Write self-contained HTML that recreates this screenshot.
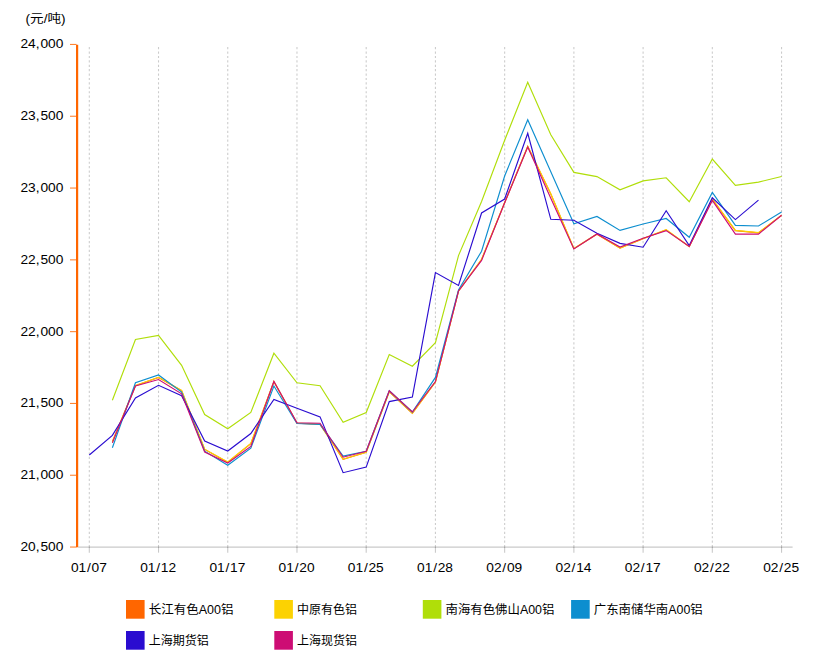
<!DOCTYPE html>
<html lang="zh-CN">
<head>
<meta charset="utf-8">
<title>铝价走势图</title>
<style>
html, body { margin: 0; padding: 0; background: #fff; }
body { width: 832px; height: 661px; overflow: hidden; font-family: "Liberation Sans", sans-serif; }
#chartdiv { position: absolute; left: 0; top: 0; width: 832px; height: 661px; }
#chartdiv svg { display: block; }
</style>
</head>
<body>
<div id="chartdiv">
<svg id="chart" width="832" height="661" viewBox="0 0 832 661" role="img" aria-label="铝价走势图 (元/吨)">
<rect width="832" height="661" fill="#fff"/>
<g class="grid" stroke="#000" stroke-opacity="0.2" stroke-width="1.1" stroke-dasharray="2.2 2.206" fill="none">
<line x1="89.3" y1="547.15" x2="89.3" y2="46.5"/>
<line x1="158.52" y1="547.15" x2="158.52" y2="46.5"/>
<line x1="227.75" y1="547.15" x2="227.75" y2="46.5"/>
<line x1="296.97" y1="547.15" x2="296.97" y2="46.5"/>
<line x1="366.2" y1="547.15" x2="366.2" y2="46.5"/>
<line x1="435.43" y1="547.15" x2="435.43" y2="46.5"/>
<line x1="504.65" y1="547.15" x2="504.65" y2="46.5"/>
<line x1="573.88" y1="547.15" x2="573.88" y2="46.5"/>
<line x1="643.1" y1="547.15" x2="643.1" y2="46.5"/>
<line x1="712.32" y1="547.15" x2="712.32" y2="46.5"/>
<line x1="781.55" y1="547.15" x2="781.55" y2="46.5"/>
</g>
<g class="x-axis" stroke="#000" stroke-opacity="0.21" stroke-width="1.1" fill="none">
<line x1="78.2" y1="547.15" x2="792.6" y2="547.15"/>
<line x1="89.3" y1="547.05" x2="89.3" y2="552.65"/>
<line x1="158.52" y1="547.05" x2="158.52" y2="552.65"/>
<line x1="227.75" y1="547.05" x2="227.75" y2="552.65"/>
<line x1="296.97" y1="547.05" x2="296.97" y2="552.65"/>
<line x1="366.2" y1="547.05" x2="366.2" y2="552.65"/>
<line x1="435.43" y1="547.05" x2="435.43" y2="552.65"/>
<line x1="504.65" y1="547.05" x2="504.65" y2="552.65"/>
<line x1="573.88" y1="547.05" x2="573.88" y2="552.65"/>
<line x1="643.1" y1="547.05" x2="643.1" y2="552.65"/>
<line x1="712.32" y1="547.05" x2="712.32" y2="552.65"/>
<line x1="781.55" y1="547.05" x2="781.55" y2="552.65"/>
</g>
<g class="series" fill="none" stroke-width="1.15" stroke-linejoin="miter" stroke-linecap="butt">
<polyline stroke="#FF6600" points="112.38,441.5 135.45,385.7 158.52,377.5 181.6,390.7 204.68,449.4 227.75,462.2 250.82,443.7 273.9,381.7 296.97,423.2 320.05,424.5 343.12,459.4 366.2,452.4 389.27,391.9 412.35,413.3 435.43,382.1 458.5,291.2 481.57,259.5 504.65,202.7 527.73,146.5 550.8,194 573.88,248.7 596.95,234.2 620.02,248.2 643.1,238.7 666.17,229.8 689.25,246.7 712.32,199.2 735.4,230.6 758.47,232.8 781.55,215.4"><title>长江有色A00铝</title></polyline>
<polyline stroke="#FCD202" points="112.38,442.2 135.45,385.5 158.52,377.3 181.6,390.5 204.68,449.2 227.75,462 250.82,443.5 273.9,381.5 296.97,423 320.05,424.3 343.12,459.2 366.2,452.2 389.27,391.7 412.35,413.1 435.43,381.9 458.5,291 481.57,259.3 504.65,202.5 527.73,146.3 550.8,193.8 573.88,248.5 596.95,234 620.02,248 643.1,238.5 666.17,229.6 689.25,246.5 712.32,199 735.4,230.4 758.47,232.6 781.55,215.2"><title>中原有色铝</title></polyline>
<polyline stroke="#B0DE09" points="112.38,400.2 135.45,339.5 158.52,335.4 181.6,365.3 204.68,414.6 227.75,428.8 250.82,412.5 273.9,353.2 296.97,382.8 320.05,385.8 343.12,422.2 366.2,412.5 389.27,354.5 412.35,366.2 435.43,342.6 458.5,255.6 481.57,201.5 504.65,140.3 527.73,82.2 550.8,134.8 573.88,172.4 596.95,176.6 620.02,189.8 643.1,180.9 666.17,177.75 689.25,201.7 712.32,159 735.4,185.4 758.47,182.1 781.55,176.5"><title>南海有色佛山A00铝</title></polyline>
<polyline stroke="#0D8ECF" points="112.38,447.7 135.45,382.8 158.52,375 181.6,392 204.68,451.2 227.75,465.2 250.82,448.2 273.9,386 296.97,423.5 320.05,424.4 343.12,456 366.2,451.2 389.27,390.8 412.35,412 435.43,377.4 458.5,290 481.57,251.2 504.65,176 527.73,119.7 550.8,171.8 573.88,223.8 596.95,216.4 620.02,230.4 643.1,224 666.17,218.5 689.25,237.3 712.32,192.4 735.4,225.4 758.47,226 781.55,212.1"><title>广东南储华南A00铝</title></polyline>
<polyline stroke="#2A0CD0" points="89.3,455 112.38,435.4 135.45,398 158.52,385.3 181.6,395.7 204.68,441 227.75,451 250.82,433.5 273.9,399.5 296.97,408.3 320.05,416.9 343.12,472.7 366.2,467.1 389.27,401.6 412.35,397.1 435.43,272.6 458.5,285.5 481.57,213 504.65,199 527.73,133.3 550.8,219.3 573.88,220.2 596.95,233.3 620.02,243.4 643.1,247.2 666.17,210.7 689.25,245.5 712.32,197.8 735.4,219.6 758.47,200.1"><title>上海期货铝</title></polyline>
<polyline stroke="#CD0D74" points="112.38,442.9 135.45,386 158.52,379.5 181.6,393.8 204.68,452 227.75,463 250.82,446.5 273.9,381.5 296.97,422.8 320.05,423.3 343.12,457.2 366.2,451.2 389.27,390.75 412.35,412 435.43,381.6 458.5,291 481.57,260.4 504.65,202.8 527.73,147 550.8,198.2 573.88,248.9 596.95,234 620.02,247 643.1,238.2 666.17,230.6 689.25,246.5 712.32,200.5 735.4,234.1 758.47,234.1 781.55,215.2"><title>上海现货铝</title></polyline>
</g>
<g class="y-axis" stroke="#FF6600" fill="none">
<line x1="77.1" y1="44.85" x2="77.1" y2="547.35" stroke-width="2.2"/>
<line x1="70" y1="44.45" x2="76.5" y2="44.45" stroke-width="1.1" stroke-opacity="0.8"/>
<line x1="70" y1="116.25" x2="76.5" y2="116.25" stroke-width="1.1" stroke-opacity="0.8"/>
<line x1="70" y1="188.05" x2="76.5" y2="188.05" stroke-width="1.1" stroke-opacity="0.8"/>
<line x1="70" y1="259.85" x2="76.5" y2="259.85" stroke-width="1.1" stroke-opacity="0.8"/>
<line x1="70" y1="331.65" x2="76.5" y2="331.65" stroke-width="1.1" stroke-opacity="0.8"/>
<line x1="70" y1="403.45" x2="76.5" y2="403.45" stroke-width="1.1" stroke-opacity="0.8"/>
<line x1="70" y1="475.25" x2="76.5" y2="475.25" stroke-width="1.1" stroke-opacity="0.8"/>
<line x1="70" y1="547.05" x2="76.5" y2="547.05" stroke-width="1.1" stroke-opacity="0.8"/>
</g>
<g class="labels" font-family="'Liberation Sans', sans-serif" font-size="12.4" fill="#000">
<text transform="translate(63.4 48.35) scale(1.11 1)" text-anchor="end">24<tspan>,</tspan><tspan dx="0.8">000</tspan></text>
<text transform="translate(63.4 120.15) scale(1.11 1)" text-anchor="end">23<tspan>,</tspan><tspan dx="0.8">500</tspan></text>
<text transform="translate(63.4 191.95) scale(1.11 1)" text-anchor="end">23<tspan>,</tspan><tspan dx="0.8">000</tspan></text>
<text transform="translate(63.4 263.75) scale(1.11 1)" text-anchor="end">22<tspan>,</tspan><tspan dx="0.8">500</tspan></text>
<text transform="translate(63.4 335.55) scale(1.11 1)" text-anchor="end">22<tspan>,</tspan><tspan dx="0.8">000</tspan></text>
<text transform="translate(63.4 407.35) scale(1.11 1)" text-anchor="end">21<tspan>,</tspan><tspan dx="0.8">500</tspan></text>
<text transform="translate(63.4 479.15) scale(1.11 1)" text-anchor="end">21<tspan>,</tspan><tspan dx="0.8">000</tspan></text>
<text transform="translate(63.4 550.95) scale(1.11 1)" text-anchor="end">20<tspan>,</tspan><tspan dx="0.8">500</tspan></text>
<text transform="translate(88.9 571.8) scale(1.11 1)" text-anchor="middle">01<tspan dx="0.7">/</tspan><tspan dx="0.7">07</tspan></text>
<text transform="translate(158.12 571.8) scale(1.11 1)" text-anchor="middle">01<tspan dx="0.7">/</tspan><tspan dx="0.7">12</tspan></text>
<text transform="translate(227.35 571.8) scale(1.11 1)" text-anchor="middle">01<tspan dx="0.7">/</tspan><tspan dx="0.7">17</tspan></text>
<text transform="translate(296.57 571.8) scale(1.11 1)" text-anchor="middle">01<tspan dx="0.7">/</tspan><tspan dx="0.7">20</tspan></text>
<text transform="translate(365.8 571.8) scale(1.11 1)" text-anchor="middle">01<tspan dx="0.7">/</tspan><tspan dx="0.7">25</tspan></text>
<text transform="translate(435.03 571.8) scale(1.11 1)" text-anchor="middle">01<tspan dx="0.7">/</tspan><tspan dx="0.7">28</tspan></text>
<text transform="translate(504.25 571.8) scale(1.11 1)" text-anchor="middle">02<tspan dx="0.7">/</tspan><tspan dx="0.7">09</tspan></text>
<text transform="translate(573.48 571.8) scale(1.11 1)" text-anchor="middle">02<tspan dx="0.7">/</tspan><tspan dx="0.7">14</tspan></text>
<text transform="translate(642.7 571.8) scale(1.11 1)" text-anchor="middle">02<tspan dx="0.7">/</tspan><tspan dx="0.7">17</tspan></text>
<text transform="translate(711.92 571.8) scale(1.11 1)" text-anchor="middle">02<tspan dx="0.7">/</tspan><tspan dx="0.7">22</tspan></text>
<text transform="translate(781.15 571.8) scale(1.11 1)" text-anchor="middle">02<tspan dx="0.7">/</tspan><tspan dx="0.7">25</tspan></text>
</g>
<g class="unit-title">
<text x="25.6" y="23" font-size="12.1" fill="#000" textLength="40" lengthAdjust="spacingAndGlyphs" font-family="'Liberation Sans', 'Noto Sans CJK SC', sans-serif">(元/吨)</text>
</g>
<g class="legend">
<g class="legend-item">
<rect x="126" y="600" width="18.6" height="18.7" fill="#FF6600"/>
<text x="148.7" y="614.3" font-size="12.1" fill="#000" textLength="84.9" lengthAdjust="spacingAndGlyphs" font-family="'Liberation Sans', 'Noto Sans CJK SC', sans-serif">长江有色A00铝</text>
</g>
<g class="legend-item">
<rect x="274.3" y="600" width="18.6" height="18.7" fill="#FCD202"/>
<text x="297" y="614.3" font-size="12.1" fill="#000" textLength="60" lengthAdjust="spacingAndGlyphs" font-family="'Liberation Sans', 'Noto Sans CJK SC', sans-serif">中原有色铝</text>
</g>
<g class="legend-item">
<rect x="422.8" y="600" width="18.6" height="18.7" fill="#B0DE09"/>
<text x="445.5" y="614.3" font-size="12.1" fill="#000" textLength="108.9" lengthAdjust="spacingAndGlyphs" font-family="'Liberation Sans', 'Noto Sans CJK SC', sans-serif">南海有色佛山A00铝</text>
</g>
<g class="legend-item">
<rect x="571.1" y="600" width="18.6" height="18.7" fill="#0D8ECF"/>
<text x="593.8" y="614.3" font-size="12.1" fill="#000" textLength="108.9" lengthAdjust="spacingAndGlyphs" font-family="'Liberation Sans', 'Noto Sans CJK SC', sans-serif">广东南储华南A00铝</text>
</g>
<g class="legend-item">
<rect x="126" y="631" width="18.6" height="18.7" fill="#2A0CD0"/>
<text x="148.7" y="645.3" font-size="12.1" fill="#000" textLength="60" lengthAdjust="spacingAndGlyphs" font-family="'Liberation Sans', 'Noto Sans CJK SC', sans-serif">上海期货铝</text>
</g>
<g class="legend-item">
<rect x="274.3" y="631" width="18.6" height="18.7" fill="#CD0D74"/>
<text x="297" y="645.3" font-size="12.1" fill="#000" textLength="60" lengthAdjust="spacingAndGlyphs" font-family="'Liberation Sans', 'Noto Sans CJK SC', sans-serif">上海现货铝</text>
</g>
</g>
</svg>
</div>
</body>
</html>
